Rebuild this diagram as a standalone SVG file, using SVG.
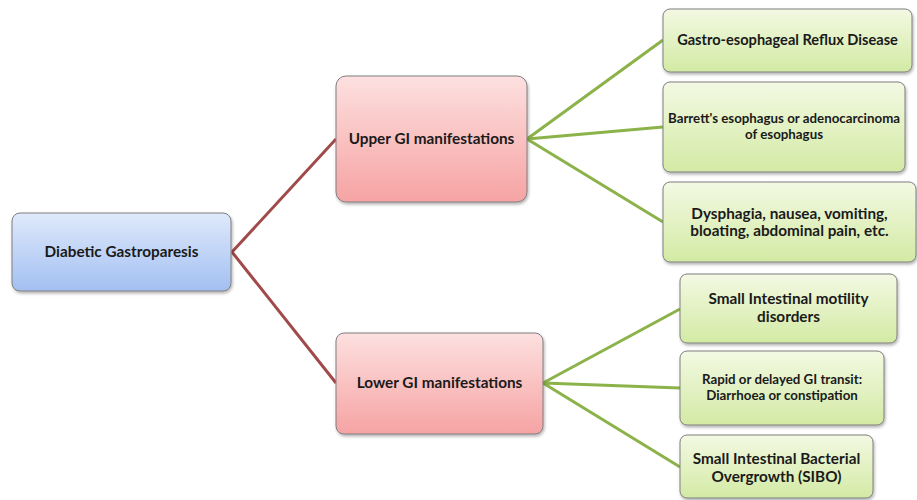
<svg xmlns="http://www.w3.org/2000/svg" width="917" height="500" viewBox="0 0 917 500">
<defs>
<linearGradient id="gBlue" x1="0" y1="0" x2="0" y2="1"><stop offset="0" stop-color="#dfe9fb"/><stop offset="1" stop-color="#a3c0f2"/></linearGradient>
<linearGradient id="gPink" x1="0" y1="0" x2="0" y2="1"><stop offset="0" stop-color="#fde0e0"/><stop offset="1" stop-color="#f6a3a3"/></linearGradient>
<linearGradient id="gGreen" x1="0" y1="0" x2="0" y2="1"><stop offset="0" stop-color="#f3f9e3"/><stop offset="1" stop-color="#d3eaa4"/></linearGradient>
<filter id="sh" x="-10%" y="-10%" width="120%" height="130%"><feDropShadow dx="1" dy="2" stdDeviation="1.5" flood-color="#000" flood-opacity="0.3"/></filter>
</defs>
<style>
text{font-family:"Lato","Open Sans","Liberation Sans",sans-serif;font-weight:bold;fill:#1a1a1a;text-anchor:middle}
.b{stroke:#7f7f7f;stroke-width:1;filter:url(#sh)}
.t15{font-size:15.3px}
.t14{font-size:14.6px}
.t13{font-size:13.3px}
.red{stroke:#a04b4a;stroke-width:3;fill:none}
.grn{stroke:#8cb24a;stroke-width:3;fill:none}
</style>
<rect width="917" height="500" fill="#fff"/>
<g id="connectors">
<path class="red" d="M232 252L336 139M232 252L336 383"/>
<path class="grn" d="M527 139L663 40M527 139L663 127M527 139L663 222"/>
<path class="grn" d="M543 383L680 309M543 383L680 388M543 383L680 467"/>
</g>
<g id="root"><rect class="b" x="12" y="213" width="219" height="78" rx="8" fill="url(#gBlue)"/><text class="t15" x="121.5" y="257">Diabetic Gastroparesis</text></g>
<g id="upper"><rect class="b" x="336" y="76" width="191" height="126" rx="10" fill="url(#gPink)"/><text class="t15" x="431.5" y="144">Upper GI manifestations</text></g>
<g id="lower"><rect class="b" x="336" y="333" width="207" height="101" rx="8" fill="url(#gPink)"/><text class="t15" x="439.5" y="388">Lower GI manifestations</text></g>
<g id="gerd"><rect class="b" x="663" y="9" width="249" height="63" rx="7" fill="url(#gGreen)"/><text class="t14" x="787.5" y="45">Gastro-esophageal Reflux Disease</text></g>
<g id="barrett"><rect class="b" x="663" y="82" width="242" height="90" rx="7" fill="url(#gGreen)"/><text class="t13" x="784" y="123">Barrett's esophagus or adenocarcinoma</text><text class="t13" x="784" y="139">of esophagus</text></g>
<g id="dysphagia"><rect class="b" x="663" y="182" width="253" height="80" rx="7" fill="url(#gGreen)"/><text class="t15" x="789.5" y="219">Dysphagia, nausea, vomiting,</text><text class="t15" x="789.5" y="236">bloating, abdominal pain, etc.</text></g>
<g id="motility"><rect class="b" x="680" y="274" width="217" height="69" rx="7" fill="url(#gGreen)"/><text class="t15" x="788.5" y="304">Small Intestinal motility</text><text class="t15" x="788.5" y="322">disorders</text></g>
<g id="transit"><rect class="b" x="680" y="351" width="204" height="74" rx="7" fill="url(#gGreen)"/><text class="t13" x="782" y="384">Rapid or delayed GI transit:</text><text class="t13" x="782" y="400">Diarrhoea or constipation</text></g>
<g id="sibo"><rect class="b" x="680" y="435" width="193" height="63" rx="7" fill="url(#gGreen)"/><text class="t15" x="776.5" y="464">Small Intestinal  Bacterial</text><text class="t15" x="776.5" y="482">Overgrowth (SIBO)</text></g>
</svg>
